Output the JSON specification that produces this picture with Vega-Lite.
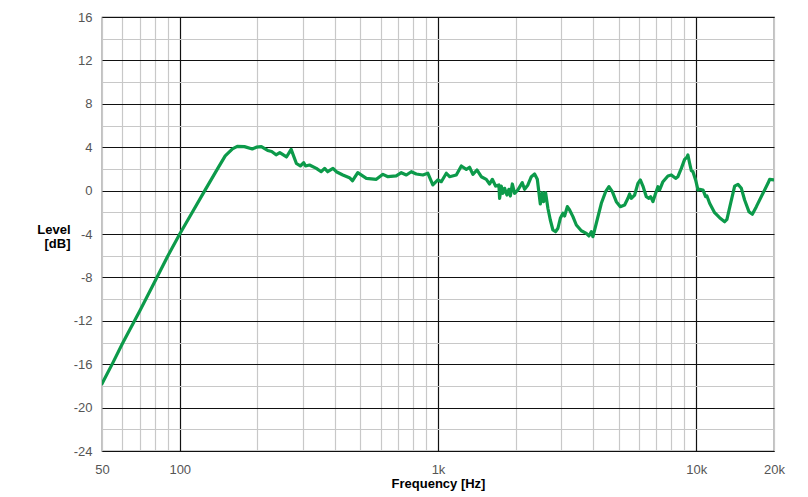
{
  "$schema": "https://vega.github.io/schema/vega-lite/v6.json",
  "autosize": "none",
  "padding": {"left": 102, "top": 17, "right": 34, "bottom": 46},
  "width": 672,
  "height": 434,
  "background": "white",
  "config": {
    "view": {"stroke": "#333333", "strokeWidth": 1.2},
    "font": "Liberation Sans"
  },
  "data": {
    "values": [
      {"f": 50, "db": -17.8}, {"f": 55, "db": -15.9}, {"f": 60, "db": -14.1}, {"f": 70, "db": -11.1},
      {"f": 80, "db": -8.4}, {"f": 90, "db": -6.0}, {"f": 100, "db": -4.0}, {"f": 110, "db": -2.3},
      {"f": 125, "db": 0}, {"f": 140, "db": 2.0}, {"f": 150, "db": 3.2}, {"f": 160, "db": 3.85},
      {"f": 167, "db": 4.08}, {"f": 178, "db": 4.05}, {"f": 191, "db": 3.84}, {"f": 198, "db": 4.0},
      {"f": 207, "db": 4.06}, {"f": 219, "db": 3.7}, {"f": 227, "db": 3.6}, {"f": 236, "db": 3.3},
      {"f": 244, "db": 3.5}, {"f": 259, "db": 3.1}, {"f": 270, "db": 3.8}, {"f": 283, "db": 2.5},
      {"f": 293, "db": 2.27}, {"f": 302, "db": 2.57}, {"f": 307, "db": 2.27}, {"f": 318, "db": 2.36},
      {"f": 338, "db": 2.05}, {"f": 353, "db": 1.74}, {"f": 364, "db": 2.05}, {"f": 374, "db": 1.74},
      {"f": 392, "db": 2.05}, {"f": 404, "db": 1.74}, {"f": 428, "db": 1.44}, {"f": 454, "db": 1.19},
      {"f": 467, "db": 0.91}, {"f": 489, "db": 1.65}, {"f": 528, "db": 1.13}, {"f": 577, "db": 1.04},
      {"f": 612, "db": 1.5}, {"f": 640, "db": 1.28}, {"f": 689, "db": 1.35}, {"f": 721, "db": 1.65},
      {"f": 754, "db": 1.44}, {"f": 788, "db": 1.74}, {"f": 824, "db": 1.53}, {"f": 874, "db": 1.44},
      {"f": 913, "db": 1.6}, {"f": 955, "db": 0.52}, {"f": 999, "db": 0.98}, {"f": 1030, "db": 0.82},
      {"f": 1077, "db": 1.6}, {"f": 1109, "db": 1.28}, {"f": 1177, "db": 1.44}, {"f": 1231, "db": 2.27},
      {"f": 1287, "db": 1.96}, {"f": 1325, "db": 2.15}, {"f": 1365, "db": 1.5}, {"f": 1415, "db": 1.9},
      {"f": 1471, "db": 1.28}, {"f": 1538, "db": 1.04}, {"f": 1584, "db": 0.61}, {"f": 1623, "db": 1.04},
      {"f": 1671, "db": 0.42}, {"f": 1721, "db": 0.52}, {"f": 1732, "db": -0.71}, {"f": 1758, "db": 0.42},
      {"f": 1784, "db": -0.25}, {"f": 1811, "db": 0.21}, {"f": 1849, "db": -0.41}, {"f": 1882, "db": 0.12},
      {"f": 1906, "db": -0.5}, {"f": 1940, "db": 0.61}, {"f": 1980, "db": -0.25}, {"f": 2039, "db": 0.06},
      {"f": 2120, "db": 0.73}, {"f": 2164, "db": 0.12}, {"f": 2229, "db": 0.52}, {"f": 2298, "db": 1.28},
      {"f": 2366, "db": 1.53}, {"f": 2424, "db": 1.04}, {"f": 2490, "db": -1.23}, {"f": 2535, "db": -0.19},
      {"f": 2564, "db": -1.02}, {"f": 2610, "db": -0.19}, {"f": 2664, "db": -1.63}, {"f": 2722, "db": -2.71},
      {"f": 2786, "db": -3.63}, {"f": 2854, "db": -3.79}, {"f": 2913, "db": -3.47}, {"f": 2976, "db": -2.55},
      {"f": 3046, "db": -2.09}, {"f": 3092, "db": -2.34}, {"f": 3168, "db": -1.48}, {"f": 3233, "db": -1.79},
      {"f": 3330, "db": -2.4}, {"f": 3433, "db": -3.17}, {"f": 3589, "db": -3.7}, {"f": 3753, "db": -3.94},
      {"f": 3840, "db": -4.18}, {"f": 3923, "db": -3.79}, {"f": 3980, "db": -4.25}, {"f": 4102, "db": -3.01},
      {"f": 4290, "db": -1.17}, {"f": 4457, "db": -0.1}, {"f": 4590, "db": 0.36}, {"f": 4732, "db": -0.1},
      {"f": 4903, "db": -1.02}, {"f": 5082, "db": -1.48}, {"f": 5280, "db": -1.33}, {"f": 5437, "db": -0.71},
      {"f": 5521, "db": -0.31}, {"f": 5605, "db": -0.71}, {"f": 5773, "db": -0.41}, {"f": 5944, "db": 0.67},
      {"f": 6073, "db": 0.98}, {"f": 6216, "db": 0.42}, {"f": 6406, "db": -0.56}, {"f": 6557, "db": -0.71},
      {"f": 6657, "db": -0.56}, {"f": 6795, "db": -1.02}, {"f": 6961, "db": -0.25}, {"f": 7105, "db": 0.36},
      {"f": 7214, "db": 0.06}, {"f": 7430, "db": 0.82}, {"f": 7767, "db": 1.35}, {"f": 8007, "db": 1.44},
      {"f": 8319, "db": 1.13}, {"f": 8491, "db": 1.28}, {"f": 8753, "db": 2.05}, {"f": 9015, "db": 2.88},
      {"f": 9201, "db": 3.07}, {"f": 9284, "db": 3.28}, {"f": 9427, "db": 2.52}, {"f": 9571, "db": 1.83},
      {"f": 9709, "db": 1.74}, {"f": 9945, "db": 0.98}, {"f": 10151, "db": 0.06}, {"f": 10306, "db": 0.12},
      {"f": 10614, "db": 0.06}, {"f": 10871, "db": -0.56}, {"f": 11000, "db": -0.5}, {"f": 11266, "db": -1.17},
      {"f": 11780, "db": -2.04}, {"f": 12316, "db": -2.5}, {"f": 12879, "db": -2.87}, {"f": 13145, "db": -2.65},
      {"f": 13675, "db": -0.87}, {"f": 14081, "db": 0.42}, {"f": 14502, "db": 0.58}, {"f": 14948, "db": 0.21},
      {"f": 15393, "db": -0.87}, {"f": 15996, "db": -1.94}, {"f": 16489, "db": -2.18}, {"f": 17088, "db": -1.48},
      {"f": 18123, "db": -0.25}, {"f": 18948, "db": 0.67}, {"f": 19238, "db": 1.04}, {"f": 20000, "db": 0.98}
    ]
  },
  "mark": {"type": "line", "color": "#0c9a4a", "strokeWidth": 3.2, "strokeJoin": "round", "strokeCap": "round", "clip": true},
  "encoding": {
    "x": {
      "field": "f", "type": "quantitative",
      "scale": {"type": "log", "domain": [50, 20000], "nice": false},
      "axis": {
        "title": "Frequency [Hz]",
        "titleFont": "Liberation Sans", "titleFontSize": 13, "titleFontWeight": "bold", "titleColor": "#000000",
        "titleY": 36, "titleBaseline": "alphabetic",
        "values": [50, 60, 70, 80, 90, 100, 200, 300, 400, 500, 600, 700, 800, 900, 1000, 2000, 3000, 4000, 5000, 6000, 7000, 8000, 9000, 10000, 20000],
        "labelExpr": "datum.value == 50 ? '50' : datum.value == 100 ? '100' : datum.value == 1000 ? '1k' : datum.value == 10000 ? '10k' : datum.value == 20000 ? '20k' : ''",
        "labelFont": "Liberation Sans", "labelFontSize": 13, "labelColor": "#555555",
        "labelPadding": 12, "labelOverlap": false, "labelFlush": false, "labelBaseline": "top",
        "ticks": false, "tickSize": 0, "domain": false,
        "grid": true,
        "gridColor": {"condition": {"test": "datum.value == 100 || datum.value == 1000 || datum.value == 10000", "value": "#111111"}, "value": "#c8c8c8"},
        "gridWidth": 1.2
      }
    },
    "y": {
      "field": "db", "type": "quantitative",
      "scale": {"domain": [-24, 16], "nice": false},
      "axis": {
        "title": ["Level", "[dB]"],
        "titleFont": "Liberation Sans", "titleFontSize": 13, "titleFontWeight": "bold", "titleColor": "#000000",
        "titleAngle": 0, "titleAlign": "right", "titleBaseline": "top",
        "titleX": -32, "titleY": 206, "titleLineHeight": 14.5,
        "values": [-24, -22, -20, -18, -16, -14, -12, -10, -8, -6, -4, -2, 0, 2, 4, 6, 8, 10, 12, 14, 16],
        "labelExpr": "datum.value % 4 == 0 ? '' + datum.value : ''",
        "labelFont": "Liberation Sans", "labelFontSize": 13, "labelColor": "#555555",
        "labelPadding": 10, "labelOverlap": false, "labelFlush": false,
        "ticks": false, "tickSize": 0, "domain": false,
        "grid": true,
        "gridColor": {"condition": {"test": "datum.value % 4 == 0", "value": "#111111"}, "value": "#c8c8c8"},
        "gridWidth": 1.2
      }
    }
  }
}
